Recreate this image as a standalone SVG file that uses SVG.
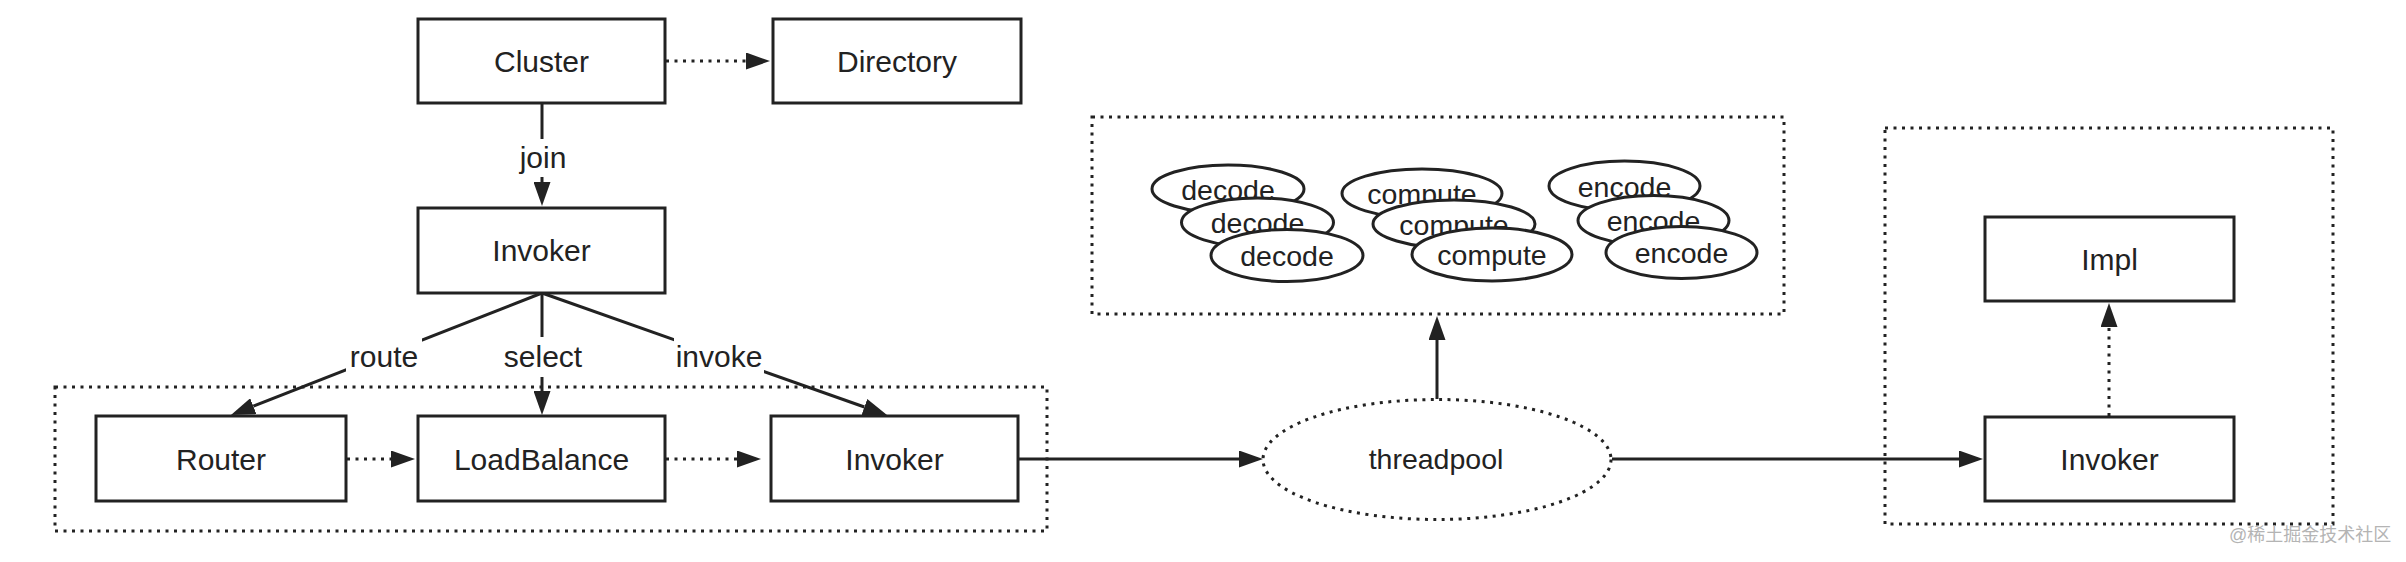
<svg xmlns="http://www.w3.org/2000/svg" width="2406" height="562" viewBox="0 0 2406 562">
<style>
  text { font-family: "Liberation Sans", Arial, Helvetica, sans-serif; fill: #222; }
  .box { fill: #fff; stroke: #222; stroke-width: 3; }
  .t30 { font-size: 30px; text-anchor: middle; }
  .t29 { font-size: 28.5px; text-anchor: middle; }
  .ell { fill: #fff; stroke: #222; stroke-width: 3; }
  .grp { fill: none; stroke: #222; stroke-width: 3; stroke-dasharray: 3 5.5; }
  .line { fill: none; stroke: #222; stroke-width: 3; }
  .dline { fill: none; stroke: #222; stroke-width: 3; stroke-dasharray: 3 5.5; }
  .lblbg { fill: #fff; }
  .wm { font-family: "Liberation Sans", "Noto Sans CJK SC", sans-serif; font-size: 18px; fill: #b4b4b4; }
</style>
<defs>
  <marker id="arr" markerUnits="userSpaceOnUse" markerWidth="24" markerHeight="17" refX="0" refY="8.5" orient="auto">
    <path d="M0,0 L24,8.5 L0,17 z" fill="#222"/>
  </marker>
</defs>
<rect width="2406" height="562" fill="#fff"/>

<!-- group containers -->
<g id="group-left"><rect class="grp" x="55" y="387" width="992" height="144"/></g>
<g id="group-pool"><rect class="grp" x="1092" y="117" width="692" height="197"/></g>
<g id="group-right"><rect class="grp" x="1885" y="128" width="448" height="396"/></g>

<!-- connectors -->
<g id="connectors">
  <path class="dline" d="M666,61 H746" marker-end="url(#arr)"/>
  <path class="line" d="M542,104 V182" marker-end="url(#arr)"/>
  <path class="line" d="M542,293 L253.3,406.2" marker-end="url(#arr)"/>
  <path class="line" d="M542,293 V391" marker-end="url(#arr)"/>
  <path class="line" d="M542,293 L864.4,407" marker-end="url(#arr)"/>
  <path class="dline" d="M347,459 H391" marker-end="url(#arr)"/>
  <path class="dline" d="M666,459 H737" marker-end="url(#arr)"/>
  <path class="line" d="M1019,459 H1239" marker-end="url(#arr)"/>
  <path class="line" d="M1437,399 V340" marker-end="url(#arr)"/>
  <path class="line" d="M1612,459 H1959" marker-end="url(#arr)"/>
  <path class="dline" d="M2109,416 V327" marker-end="url(#arr)"/>
  <rect class="lblbg" x="516" y="139" width="52" height="38"/>
  <text class="t30" x="543" y="168">join</text>
  <rect class="lblbg" x="346" y="337" width="76" height="40"/>
  <text class="t30" x="384" y="367">route</text>
  <rect class="lblbg" x="500" y="337" width="86" height="40"/>
  <text class="t30" x="543" y="367">select</text>
  <rect class="lblbg" x="674" y="337" width="90" height="40"/>
  <text class="t30" x="719" y="367">invoke</text>
</g>

<!-- nodes -->
<g id="cluster"><rect class="box" x="418" y="19" width="247" height="84"/><text class="t30" x="541.5" y="71.5">Cluster</text></g>
<g id="directory"><rect class="box" x="773" y="19" width="248" height="84"/><text class="t30" x="897" y="71.5">Directory</text></g>
<g id="invoker-top"><rect class="box" x="418" y="208" width="247" height="85"/><text class="t30" x="541.5" y="261">Invoker</text></g>
<g id="router"><rect class="box" x="96" y="416" width="250" height="85"/><text class="t30" x="221" y="469.5">Router</text></g>
<g id="loadbalance"><rect class="box" x="418" y="416" width="247" height="85"/><text class="t30" x="541.5" y="469.5">LoadBalance</text></g>
<g id="invoker-mid"><rect class="box" x="771" y="416" width="247" height="85"/><text class="t30" x="894.5" y="469.5">Invoker</text></g>
<g id="threadpool"><ellipse class="grp" cx="1437" cy="459.5" rx="174" ry="60"/><text class="t29" x="1436" y="469">threadpool</text></g>
<g id="impl"><rect class="box" x="1985" y="217" width="249" height="84"/><text class="t30" x="2109.5" y="269.5">Impl</text></g>
<g id="invoker-right"><rect class="box" x="1985" y="417" width="249" height="84"/><text class="t30" x="2109.5" y="469.5">Invoker</text></g>

<g id="decode">
  <ellipse class="ell" cx="1228" cy="189" rx="76" ry="24"/><text class="t29" x="1228" y="199.5">decode</text>
  <ellipse class="ell" cx="1257.5" cy="222.5" rx="76" ry="24.5"/><text class="t29" x="1257.5" y="233">decode</text>
  <ellipse class="ell" cx="1287" cy="255.5" rx="76" ry="26"/><text class="t29" x="1287" y="266">decode</text>
</g>
<g id="compute">
  <ellipse class="ell" cx="1422" cy="193.5" rx="80" ry="24.5"/><text class="t29" x="1422" y="204">compute</text>
  <ellipse class="ell" cx="1454" cy="224" rx="81" ry="24"/><text class="t29" x="1454" y="234.5">compute</text>
  <ellipse class="ell" cx="1492" cy="254.5" rx="80" ry="26.5"/><text class="t29" x="1492" y="265">compute</text>
</g>
<g id="encode">
  <ellipse class="ell" cx="1624.5" cy="186" rx="75.5" ry="25"/><text class="t29" x="1624.5" y="196.5">encode</text>
  <ellipse class="ell" cx="1653.5" cy="220.5" rx="75.5" ry="25"/><text class="t29" x="1653.5" y="231">encode</text>
  <ellipse class="ell" cx="1681.5" cy="252.5" rx="75.5" ry="26"/><text class="t29" x="1681.5" y="263">encode</text>
</g>

<text class="wm" x="2229" y="541">@稀土掘金技术社区</text>
</svg>
